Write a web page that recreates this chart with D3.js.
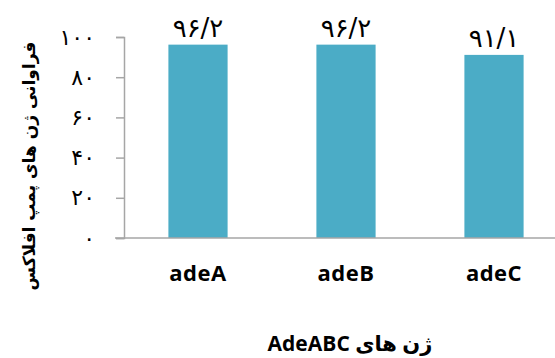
<!DOCTYPE html>
<html>
<head>
<meta charset="utf-8">
<script src="https://cdn.jsdelivr.net/npm/d3@7/dist/d3.min.js"></script>
<style>
  html, body { margin: 0; padding: 0; background: #fff; }
  svg { display: block; }
</style>
</head>
<body>
<svg id="chart" width="555" height="358"></svg>
<script>
// Gene names and their frequency (%)
const categories = ["adeA", "adeB", "adeC"];
const values = [96.2, 96.2, 91.1];
const valueLabels = ["۹۶/۲", "۹۶/۲", "۹۱/۱"];
const yTicks = [0, 20, 40, 60, 80, 100];
const yTickLabels = ["۰", "۲۰", "۴۰", "۶۰", "۸۰", "۱۰۰"];
const yTitle = "فراوانی ژن های پمپ افلاکس";
const xTitle = "ژن های AdeABC";

const svg = d3.select("#chart");
const barColor = "#4bacc6";
const axisColor = "#a6a6a6";

const x = d3.scaleBand()
  .domain(categories)
  .range([124, 568])
  .paddingInner(0.6)
  .paddingOuter(0.3);

const y = d3.scaleLinear().domain([0, 100]).range([238, 37]);

// Bars
svg.selectAll("rect.bar")
  .data(categories)
  .join("rect")
  .attr("class", "bar")
  .attr("x", d => x(d))
  .attr("width", x.bandwidth())
  .attr("y", (d, i) => y(values[i]))
  .attr("height", (d, i) => y(0) - y(values[i]))
  .attr("fill", barColor);

// Value labels above bars
svg.selectAll("text.val")
  .data(categories)
  .join("text")
  .attr("class", "val")
  .attr("x", d => x(d) + x.bandwidth() / 2)
  .attr("y", (d, i) => y(values[i]) - 8)
  .attr("text-anchor", "middle")
  .attr("font-family", "DejaVu Sans")
  .attr("font-size", 26)
  .attr("fill", "#000")
  .text((d, i) => valueLabels[i]);

// Y axis
const yAxis = d3.axisLeft(y)
  .tickValues(yTicks)
  .tickSize(8)
  .tickPadding(21)
  .tickFormat((d, i) => yTickLabels[i]);
const yg = svg.append("g").attr("transform", "translate(124,0)").call(yAxis);
yg.select(".domain").attr("stroke", axisColor).attr("stroke-width", 1.5);
yg.selectAll(".tick line").attr("stroke", axisColor).attr("stroke-width", 1.5);
yg.selectAll(".tick text")
  .attr("font-family", "DejaVu Sans")
  .attr("font-size", 22)
  .attr("fill", "#000");

// X axis baseline
const xAxis = d3.axisBottom(x).tickSize(0).tickPadding(27);
const xg = svg.append("g").attr("transform", `translate(0,${y(0)})`).call(xAxis);
xg.select(".domain").remove();
svg.append("line")
  .attr("x1", 115).attr("x2", 555)
  .attr("y1", y(0)).attr("y2", y(0))
  .attr("stroke", axisColor).attr("stroke-width", 1.5);
xg.selectAll(".tick text")
  .attr("font-family", "Open Sans")
  .attr("font-weight", "bold")
  .attr("font-size", 22)
  .attr("letter-spacing", 0.5)
  .attr("fill", "#000");

// Axis titles
svg.append("text")
  .attr("transform", "translate(35,166) rotate(-90)")
  .attr("text-anchor", "middle")
  .attr("font-family", "DejaVu Sans")
  .attr("font-weight", "bold")
  .attr("font-size", 17)
  .attr("direction", "rtl")
  .attr("fill", "#000")
  .text(yTitle);

svg.append("text")
  .attr("x", 350)
  .attr("y", 351)
  .attr("text-anchor", "middle")
  .attr("font-family", "Open Sans, DejaVu Sans")
  .attr("font-weight", "bold")
  .attr("font-size", 21)
  .attr("direction", "rtl")
  .attr("fill", "#000")
  .text(xTitle);
</script>
</body>
</html>
